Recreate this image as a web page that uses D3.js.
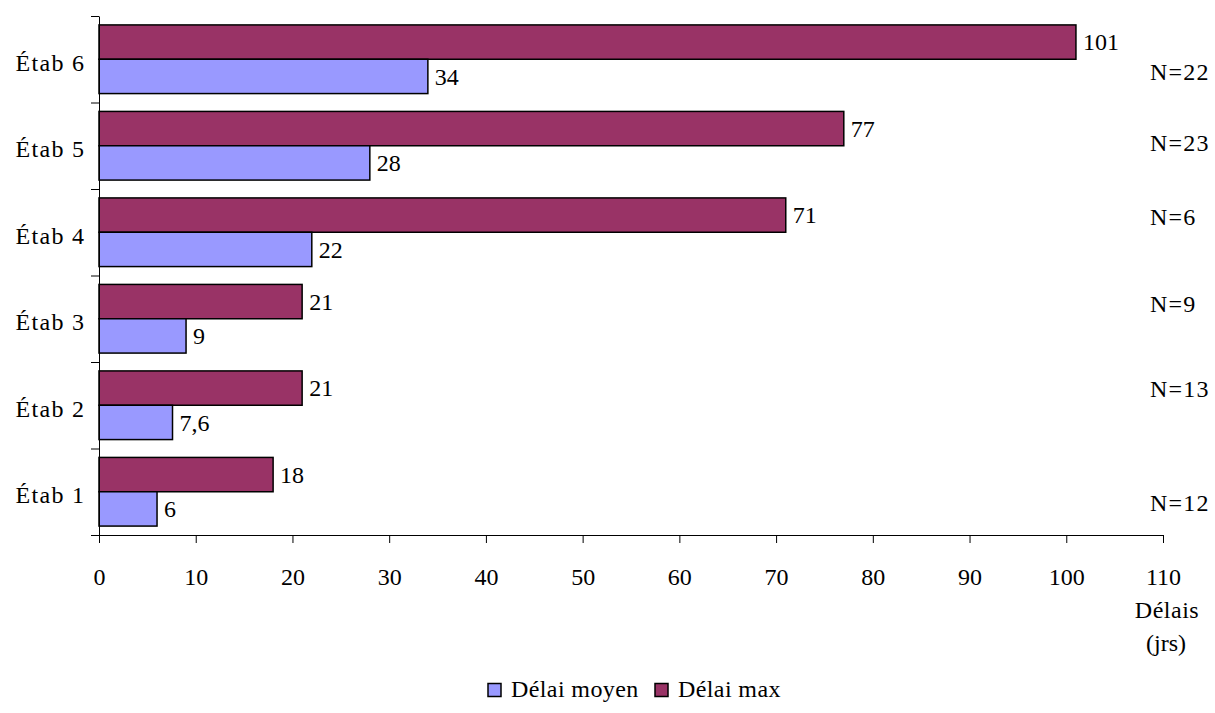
<!DOCTYPE html>
<html>
<head>
<meta charset="utf-8">
<script src="https://cdn.jsdelivr.net/npm/d3@7"></script>
<style>
  html, body { margin: 0; padding: 0; background: #fff; }
  svg text { font-family: "Liberation Serif", "Tinos", "DejaVu Serif", serif; }
</style>
</head>
<body>
<svg id="chart" width="1215" height="713"></svg>
<script>
// ---- data ----
const categories = ["Étab 1", "Étab 2", "Étab 3", "Étab 4", "Étab 5", "Étab 6"];
const delaiMoyen = [6, 7.6, 9, 22, 28, 34];
const delaiMax = [18, 21, 21, 71, 77, 101];
const nLabels = ["N=12", "N=13", "N=9", "N=6", "N=23", "N=22"];
const xTicks = [0, 10, 20, 30, 40, 50, 60, 70, 80, 90, 100, 110];
const seriesNames = ["Délai moyen", "Délai max"];
const seriesColors = ["#9999FF", "#993366"];
// layout offsets for the N annotations (relative to band centre)
const nLabelDy = [19, -8, -6.5, -7, 5.5, 21];

const FONT = "'Liberation Serif', Tinos, 'DejaVu Serif', serif";
const svg = d3.select("#chart");
const FS = 24;

const x = d3.scaleLinear().domain([0, 110]).range([99, 1163]);
const y = d3.scaleBand().domain(categories).range([535, 16]).padding(0);
const sub = d3.scaleBand().domain(["max", "mean"]).range([0, y.bandwidth()]).paddingInner(0).paddingOuter(0.26);
const color = d3.scaleOrdinal().domain(seriesNames).range(seriesColors);

const rows = categories.map((c, i) => ({ cat: c, mean: delaiMoyen[i], max: delaiMax[i], n: nLabels[i], dy: nLabelDy[i] }));

function txt(sel) { return sel.attr("font-family", FONT).attr("font-size", FS).attr("fill", "#000"); }

// bars
const g = svg.append("g");
rows.forEach(r => {
  [["max", r.max, seriesNames[1]], ["mean", r.mean, seriesNames[0]]].forEach(([k, v, s]) => {
    const yy = y(r.cat) + sub(k);
    g.append("rect")
      .attr("x", x(0)).attr("y", yy)
      .attr("width", x(v) - x(0)).attr("height", sub.bandwidth())
      .attr("fill", color(s)).attr("stroke", "#000").attr("stroke-width", 1.5);
    g.append("text")
      .attr("x", x(v) + 7).attr("y", yy + sub.bandwidth() / 2)
      .attr("dy", "0.35em")
      .call(txt)
      .text(String(v).replace(".", ","));
  });
  svg.append("text")
    .attr("x", 1150).attr("y", y(r.cat) + y.bandwidth() / 2 + r.dy)
    .attr("letter-spacing", 1.2)
    .call(txt)
    .text(r.n);
});

// y axis (tick marks at band edges)
const yEdge = d3.scaleLinear().domain([0, categories.length]).range([535, 16]);
svg.append("g")
  .attr("transform", `translate(${x(0)},0)`)
  .call(d3.axisLeft(yEdge).ticks(categories.length).tickSize(8).tickSizeOuter(0).tickFormat(""))
  .call(a => a.select(".domain").attr("stroke", "#000"))
  .call(a => a.selectAll(".tick line").attr("stroke", "#000"));

// category labels
svg.append("g").selectAll("text").data(categories).join("text")
  .attr("x", 85.3).attr("y", d => y(d) + y.bandwidth() / 2 + 11.5)
  .attr("letter-spacing", 1.3)
  .attr("text-anchor", "end").call(txt)
  .text(d => d);

// x axis
svg.append("g")
  .attr("transform", `translate(0,535)`)
  .call(d3.axisBottom(x).tickValues(xTicks).tickSize(8).tickSizeOuter(0).tickPadding(25))
  .attr("font-family", FONT)
  .call(a => a.select(".domain").attr("stroke", "#000"))
  .call(a => a.selectAll(".tick line").attr("stroke", "#000"))
  .call(a => a.selectAll("text").call(txt));

// axis title
svg.append("text").attr("x", 1167).attr("y", 618).attr("text-anchor", "middle").attr("letter-spacing", 0.5).call(txt).text("Délais");
svg.append("text").attr("x", 1166).attr("y", 651).attr("text-anchor", "middle").call(txt).text("(jrs)");

// legend
const legX = [488, 655];
seriesNames.forEach((s, i) => {
  svg.append("rect").attr("x", legX[i]).attr("y", 683.5).attr("width", 13).attr("height", 13)
    .attr("fill", color(s)).attr("stroke", "#000").attr("stroke-width", 1.5);
  svg.append("text").attr("x", legX[i] + 23).attr("y", 697).attr("letter-spacing", 0.4).call(txt).text(s);
});
</script>
</body>
</html>
